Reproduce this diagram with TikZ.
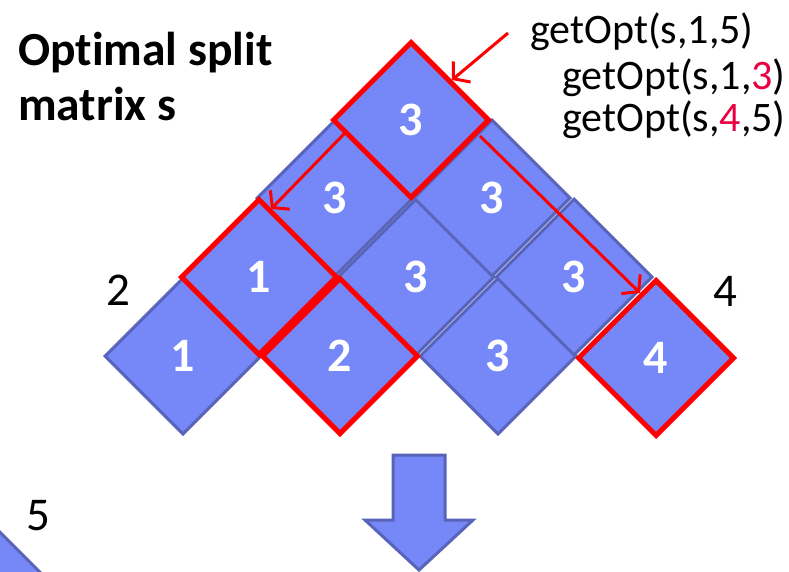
\documentclass[tikz,border=0pt]{standalone}
\usepackage{fontspec}
\setmainfont{Carlito}[Ligatures=NoCommon]
\usetikzlibrary{shapes.geometric,arrows.meta}
\definecolor{cellfill}{RGB}{118,136,248}
\definecolor{celledge}{RGB}{88,100,185}
\definecolor{hired}{RGB}{255,0,0}
\definecolor{idxred}{RGB}{232,0,64}
\begin{document}
\begin{tikzpicture}[x=1pt,y=-1pt,
  cell/.style={diamond,aspect=1,minimum width=157pt,minimum height=157pt,
    inner sep=0pt,fill=cellfill,draw=celledge,line width=3pt,text=white,
    font=\fontsize{48}{48}\selectfont\bfseries},
  redcell/.style={cell,draw=hired,line width=5pt},
  redarrow/.style={draw=hired,line width=3pt,
    -{Straight Barb[length=11pt,width=27pt,line width=3pt]}},
  title/.style={anchor=base west,inner sep=0pt,font=\fontsize{47.5}{47.5}\selectfont\bfseries},
  code/.style={anchor=base west,inner sep=0pt,font=\fontsize{42}{42}\selectfont},
  idx/.style={anchor=base west,inner sep=0pt,font=\fontsize{47}{47}\selectfont},
  blockarrow/.style={fill=cellfill,draw=celledge,line width=3pt,line join=miter}]
\useasboundingbox (0,0) rectangle (789,571);
\clip (0,0) rectangle (789,571);

% partial cell in the lower left corner
\node[cell] (corner) at (-10,600) {};

% split matrix cells, bottom row first
\node[cell] (r1a) at (183,356) {1};
\node[cell] (r1c) at (498,356) {3};
\node[cell] (r2b) at (416,277) {3};
\node[cell] (r2c) at (574,277) {3};
\node[cell] (r3a) at (335,198) {3};
\node[cell] (r3b) at (492,198) {3};

% highlighted cells
\node[redcell] (r1b) at (340,356) {2};
\node[redcell] (r1d) at (656,358) {4};
\node[redcell] (r2a) at (259,277) {1};
\node[redcell] (r4)  at (411,120) {3};

% titles and labels
\node[title] (t1) at (18,65) {Optimal split};
\node[title] (t2) at (18,120) {matrix s};
\node[code] (g1) at (530,43) {getOpt(s,1,5)};
\node[code] (g2) at (562,89) {getOpt(s,1,\textcolor{idxred}{3})};
\node[code] (g3) at (562,131) {getOpt(s,\textcolor{idxred}{4},5)};
\node[idx] (l2) at (106,305) {2};
\node[idx] (l4) at (713,306) {4};
\node[idx] (l5) at (26,530) {5};

% recursion arrows
\coordinate (a1s) at (508,33);
\coordinate (a1e) at (452,80);
\coordinate (a2s) at (345,133);
\coordinate (a2e) at (271,209);
\coordinate (a3s) at (480,136);
\coordinate (a3e) at (640,293);
\draw[redarrow] (a1s) -- (a1e);
\draw[redarrow] (a2s) -- (a2e);
\draw[redarrow] (a3s) -- (a3e);

% block arrow pointing down
\draw[blockarrow] (393,455) -- (445,455) -- (445,520) -- (473,520)
  -- (419,570) -- (365,520) -- (393,520) -- cycle;
\end{tikzpicture}
\end{document}
